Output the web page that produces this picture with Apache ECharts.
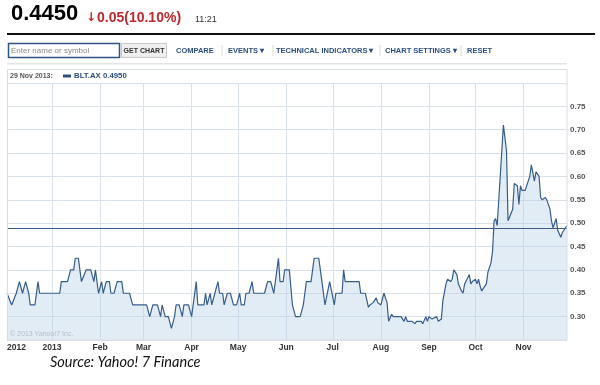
<!DOCTYPE html>
<html><head><meta charset="utf-8">
<script src="https://cdn.jsdelivr.net/npm/echarts@6/dist/echarts.min.js"></script>
<style>html,body{margin:0;padding:0;background:#fff}#c{width:600px;height:385px}</style>
</head><body><div id="c"></div>
<script>
const dates = [
'2012-12-03','2012-12-04','2012-12-06','2012-12-07','2012-12-09','2012-12-10','2012-12-11','2012-12-13','2012-12-14','2012-12-15','2012-12-17','2012-12-18','2012-12-21','2012-12-23','2012-12-24',
'2013-01-06','2013-01-07','2013-01-11','2013-01-13','2013-01-15','2013-01-16','2013-01-18','2013-01-20','2013-01-21','2013-01-23','2013-01-26','2013-01-28','2013-01-29','2013-01-31',
'2013-02-02','2013-02-03','2013-02-05','2013-02-07','2013-02-08','2013-02-10','2013-02-12','2013-02-15','2013-02-16','2013-02-20','2013-02-22',
'2013-03-03','2013-03-05','2013-03-07','2013-03-10','2013-03-12','2013-03-13','2013-03-15','2013-03-17','2013-03-19','2013-03-21','2013-03-22','2013-03-24','2013-03-26','2013-03-27','2013-03-30',
'2013-04-01','2013-04-04','2013-04-05','2013-04-09','2013-04-10','2013-04-11','2013-04-13','2013-04-14','2013-04-16','2013-04-18','2013-04-19','2013-04-21','2013-04-22','2013-04-24','2013-04-26','2013-04-28','2013-04-30',
'2013-05-02','2013-05-03','2013-05-05','2013-05-06','2013-05-08','2013-05-10','2013-05-11','2013-05-18','2013-05-20','2013-05-22','2013-05-24','2013-05-26','2013-05-27','2013-05-28','2013-05-30','2013-05-31',
'2013-06-03','2013-06-05','2013-06-07','2013-06-10','2013-06-12','2013-06-14','2013-06-17','2013-06-19','2013-06-22','2013-06-24','2013-06-26','2013-06-29',
'2013-07-02','2013-07-03','2013-07-07','2013-07-08','2013-07-09','2013-07-18','2013-07-19','2013-07-22','2013-07-24','2013-07-25','2013-07-27','2013-07-29','2013-07-30',
'2013-08-01','2013-08-02','2013-08-03','2013-08-05','2013-08-06','2013-08-08','2013-08-09','2013-08-14','2013-08-16','2013-08-17','2013-08-18','2013-08-21','2013-08-22','2013-08-23','2013-08-24','2013-08-27','2013-08-28','2013-08-30','2013-08-31',
'2013-09-01','2013-09-03','2013-09-06','2013-09-07','2013-09-09','2013-09-10','2013-09-12','2013-09-13','2013-09-15','2013-09-16','2013-09-17','2013-09-19','2013-09-20','2013-09-22','2013-09-23','2013-09-24','2013-09-25','2013-09-27','2013-09-28','2013-09-29',
'2013-10-01','2013-10-02','2013-10-03','2013-10-04','2013-10-05','2013-10-06','2013-10-08','2013-10-09','2013-10-11','2013-10-12','2013-10-13','2013-10-14','2013-10-15','2013-10-19','2013-10-21','2013-10-22','2013-10-23','2013-10-25','2013-10-26','2013-10-28','2013-10-29','2013-10-30','2013-10-31',
'2013-11-02','2013-11-04','2013-11-05','2013-11-06','2013-11-08','2013-11-09','2013-11-11','2013-11-12','2013-11-13','2013-11-15','2013-11-16','2013-11-18','2013-11-19','2013-11-20','2013-11-22','2013-11-23','2013-11-25','2013-11-26','2013-11-29'
];
const prices = [
0.35,0.35,0.325,0.325,0.35,0.35,0.375,0.35,0.35,0.375,0.35,0.325,0.325,0.375,0.35,
0.35,0.375,0.375,0.40,0.40,0.425,0.425,0.375,0.375,0.40,0.40,0.375,0.40,0.35,
0.375,0.35,0.375,0.375,0.35,0.35,0.375,0.375,0.35,0.35,0.325,
0.325,0.30,0.325,0.325,0.30,0.325,0.30,0.30,0.275,0.30,0.325,0.325,0.30,0.325,0.325,
0.30,0.375,0.325,0.325,0.35,0.325,0.35,0.325,0.35,0.375,0.35,0.35,0.325,0.35,0.35,0.325,0.325,
0.35,0.325,0.325,0.35,0.35,0.375,0.35,0.35,0.375,0.375,0.35,0.40,0.425,0.375,0.375,0.40,
0.40,0.325,0.30,0.30,0.325,0.375,0.375,0.425,0.425,0.375,0.325,0.375,
0.325,0.35,0.35,0.40,0.375,0.375,0.35,0.35,0.32,0.325,0.33,0.34,0.33,
0.325,0.325,0.35,0.33,0.29,0.305,0.30,0.30,0.29,0.30,0.29,0.29,0.29,0.285,0.29,0.29,0.285,0.30,0.29,
0.30,0.295,0.30,0.29,0.295,0.335,0.37,0.38,0.375,0.38,0.40,0.39,0.37,0.355,0.35,0.37,0.37,0.39,0.37,0.375,
0.38,0.37,0.38,0.365,0.355,0.355,0.37,0.395,0.415,0.44,0.505,0.51,0.495,0.71,0.655,0.505,0.505,0.53,0.585,0.58,0.54,0.58,0.57,
0.57,0.59,0.60,0.625,0.59,0.61,0.60,0.555,0.55,0.555,0.55,0.53,0.505,0.49,0.51,0.485,0.47,0.48,0.495
];
const tickDates = ['2012-12-03','2013-01-01','2013-02-01','2013-03-01','2013-04-01','2013-05-01','2013-06-01','2013-07-01','2013-08-01','2013-09-01','2013-10-01','2013-11-01'];
const tickLabels = ['2012','2013','Feb','Mar','Apr','May','Jun','Jul','Aug','Sep','Oct','Nov'];
const rangeStart = '2012-12-03', rangeEnd = '2013-11-29';
const lastClose = 0.495;
const quote = '0.4450', change = '0.05(10.10%)', quoteTime = '11:21';
const legendDate = '29 Nov 2013:', symbolName = 'BLT.AX', legendValue = '0.4950';
const menuItems = ['COMPARE', 'EVENTS \u25BE', 'TECHNICAL INDICATORS \u25BE', 'CHART SETTINGS \u25BE', 'RESET'];

function ts(s){ const p = s.split('-'); return Date.UTC(+p[0], +p[1]-1, +p[2]); }
const tickTs = tickDates.map(ts);
const FF = '"Liberation Sans", Arial, sans-serif';
function txt(x, y, text, size, color, weight, extra){
  const st = {text: text, fontSize: size, fontWeight: weight || 'normal', fontFamily: FF, fill: color, verticalAlign: 'middle', align: 'left'};
  if (extra) Object.assign(st, extra);
  return {type: 'text', x: x, y: y, silent: true, z: 10, style: st};
}
const menuX = [176, 228, 276, 385, 467];
const sepX = [221.5, 272.5, 379.5, 460.5];
const graphics = [
  txt(11, 14, quote, 22, '#000', 'bold'),
  txt(86, 17.5, '\u2193', 12, '#c62828', 'bold', {fontFamily: '"DejaVu Sans", sans-serif'}),
  txt(97, 18, change, 14, '#c0272d', 'bold'),
  txt(195, 19.5, quoteTime, 9, '#333'),
  {type:'rect', silent:true, shape:{x:7, y:33, width:588, height:2}, style:{fill:'#111'}},
  {type:'rect', silent:true, shape:{x:8.5, y:43.5, width:111, height:14}, style:{fill:'#fff', stroke:'#2e5584', lineWidth:1.5}},
  txt(11, 51, 'Enter name or symbol', 8, '#888'),
  {type:'rect', silent:true, shape:{x:121.5, y:43.5, width:45, height:14}, style:{fill:'#efefef', stroke:'#c8c8c8', lineWidth:1}},
  txt(144, 51, 'GET CHART', 7, '#333', 'bold', {align:'center'}),
  {type:'rect', silent:true, shape:{x:7, y:63, width:560, height:1.5}, style:{fill:'#e4e4e4'}},
  {type:'rect', silent:true, z:9, shape:{x:7.5, y:69.5, width:559.5, height:270.5}, style:{fill:'none', stroke:'#d6dee7', lineWidth:1}},
  txt(10, 76, legendDate, 7, '#555', 'bold'),
  {type:'rect', silent:true, shape:{x:63, y:74.5, width:8, height:3}, style:{fill:'#2b4f7e'}},
  txt(74, 76, symbolName + ' ' + legendValue, 7.8, '#2b4f7e', 'bold'),
  txt(10, 334.5, '\u00A9 2013 Yahoo!7 Inc.', 7, '#b4bcc8'),
  {type:'text', x:50, y:362.5, silent:true, style:{text:'Source: Yahoo! 7 Finance', fontSize:14.5, fontStyle:'italic', fontFamily:'Lato, "Open Sans", sans-serif', fill:'#111', verticalAlign:'middle', align:'left'}}
];
menuItems.forEach((m, i) => graphics.push(txt(menuX[i], 51, m, 7.5, '#2a4f80', 'bold')));
sepX.forEach(x => graphics.push({type:'rect', silent:true, shape:{x:x, y:45, width:1, height:11}, style:{fill:'#dcdcdc'}}));

const chart = echarts.init(document.getElementById('c'), null, {renderer:'canvas'});
chart.setOption({
  animation: false,
  backgroundColor: '#fff',
  grid: {left: 7, right: 33, top: 83, bottom: 45, containLabel: false},
  xAxis: {
    type: 'value', min: ts(rangeStart), max: ts(rangeEnd), scale: true,
    axisLine: {show: false},
    axisTick: {show: false, customValues: tickTs},
    splitLine: {show: true, lineStyle: {color: '#d9e1ea', width: 1}},
    axisLabel: {
      customValues: tickTs, margin: 3, color: '#333', fontSize: 8.5, fontWeight: 'bold', fontFamily: FF,
      alignMinLabel: 'left', hideOverlap: false,
      formatter: function(v){ const i = tickTs.indexOf(v); return i >= 0 ? tickLabels[i] : ''; }
    }
  },
  yAxis: {
    type: 'value', position: 'right', min: 0.25, max: 0.80, interval: 0.05,
    axisLine: {show: false}, axisTick: {show: false},
    splitLine: {show: true, lineStyle: {color: '#d9e1ea', width: 1}},
    axisLabel: {margin: 3, color: '#555', fontSize: 8, fontWeight: 'bold', fontFamily: FF,
      formatter: function(v){ return (v < 0.27 || v > 0.78) ? '' : v.toFixed(2); }}
  },
  series: [{
    type: 'line', name: symbolName,
    data: dates.map((d, i) => [ts(d), prices[i]]),
    symbol: 'none', showSymbol: false,
    lineStyle: {color: '#365d8c', width: 1.2},
    areaStyle: {color: 'rgba(187,210,232,0.6)'},
    markLine: {silent: true, symbol: 'none', label: {show: false},
      lineStyle: {color: '#3b5b85', width: 1, type: 'solid'},
      data: [{yAxis: lastClose}]}
  }],
  graphic: graphics
});
</script></body></html>
